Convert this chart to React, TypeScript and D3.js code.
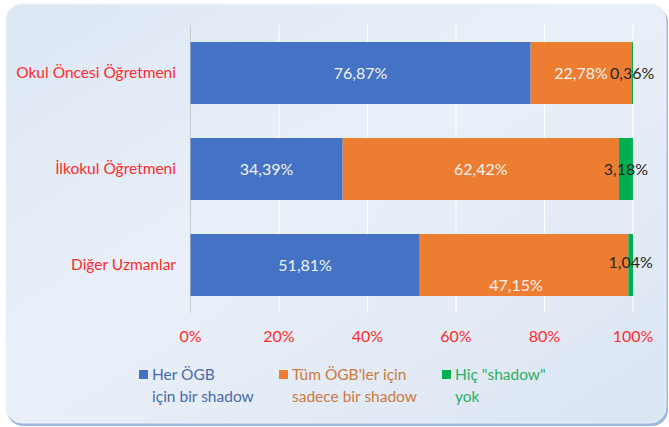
import React from 'react'
import * as d3 from 'd3'

const categories = ['Okul Öncesi Öğretmeni', 'İlkokul Öğretmeni', 'Diğer Uzmanlar']
const seriesNames = ['Her ÖGB\niçin bir shadow', "Tüm ÖGB'ler için\nsadece bir shadow", 'Hiç "shadow"\nyok']
const herOgb = [76.87, 34.39, 51.81]
const tumOgb = [22.78, 62.42, 47.15]
const hicYok = [0.36, 3.18, 1.04]
const ticks = [0, 20, 40, 60, 80, 100]

const colors = ['#4472C4', '#ED7D31', '#00B050']
const legendText = ['#4A6AAE', '#CC7A3E', '#2DB060']
const labelColors = ['#F2F2F2', '#F2F2F2', '#262626']

const W = 669
const H = 427
const FONT = 'Lato, "Liberation Sans", sans-serif'

export default function App() {
  const x = d3.scaleLinear().domain([0, 100]).range([190.5, 633])
  const y = d3.scaleBand<string>().domain(categories).range([25, 313]).paddingInner(0.354).paddingOuter(0.177)

  const rows = categories.map((c, i) => ({ cat: c, vals: [herOgb[i], tumOgb[i], hicYok[i]] }))
  const stacked = rows.map(r => {
    let acc = 0
    return r.vals.map((v, k) => {
      const s = { k, v, x0: acc, x1: acc + v }
      acc += v
      return s
    })
  })

  return (
    <svg width={W} height={H} style={{ position: 'absolute', left: 0, top: 0, fontFamily: FONT }}>
      <defs>
        <linearGradient id="bg" x1="0" y1="0" x2="1" y2="1">
          <stop offset="0%" stopColor="#DCE7F4" />
          <stop offset="45%" stopColor="#EAF0F9" />
          <stop offset="100%" stopColor="#DAE5F2" />
        </linearGradient>
      </defs>
      <rect x={0} y={0} width={W} height={H} fill="#ffffff" />
      <rect x={7} y={6} width={661} height={420} rx={16} fill="#9FB6DF" />
      <rect x={6} y={4} width={660} height={419} rx={16} fill="url(#bg)" stroke="#EEF2F8" strokeWidth={1} />

      {ticks.map(t => (
        <line key={t} x1={x(t)} x2={x(t)} y1={25} y2={313} stroke={t === 0 ? '#CFCFCF' : '#FFFFFF'} strokeWidth={1.2} />
      ))}

      {stacked.map((segs, i) => (
        <g key={categories[i]}>
          {segs.map(s => (
            <rect key={s.k} x={x(s.x0)} width={x(s.x1) - x(s.x0)} y={y(categories[i])} height={y.bandwidth()} fill={colors[s.k]} />
          ))}
        </g>
      ))}

      {stacked.map((segs, i) =>
        segs.map(s => {
          let dy = 0
          let dx = 0
          if (i === 2 && s.k === 1) { dy = 20; dx = -8 }
          if (i === 2 && s.k === 2) { dy = -3 }
          return (
            <text
              key={`${i}-${s.k}`}
              x={(x(s.x0) + x(s.x1)) / 2 + dx}
              y={(y(categories[i]) as number) + y.bandwidth() / 2 + dy}
              dy="0.35em"
              textAnchor="middle"
              fontSize={16}
              fill={labelColors[s.k]}
            >
              {s.v.toFixed(2).replace('.', ',')}%
            </text>
          )
        })
      )}

      {categories.map(c => (
        <text key={c} x={176} y={(y(c) as number) + y.bandwidth() / 2} dy="0.35em" textAnchor="end" fontSize={15.5} fill="#FF2B2B">
          {c}
        </text>
      ))}

      {ticks.map(t => (
        <text key={t} x={x(t)} y={336} dy="0.35em" textAnchor="middle" fontSize={16} fill="#FF2B2B">
          {t}%
        </text>
      ))}

      {seriesNames.map((n, k) => {
        const lx = [139, 279, 442][k]
        return (
          <g key={n}>
            <rect x={lx} y={370} width={9} height={9} fill={colors[k]} />
            {n.split('\n').map((line, j) => (
              <text key={j} x={lx + 13} y={375 + j * 22} dy="0.35em" fontSize={15.5} fill={legendText[k]}>
                {line}
              </text>
            ))}
          </g>
        )
      })}
    </svg>
  )
}
